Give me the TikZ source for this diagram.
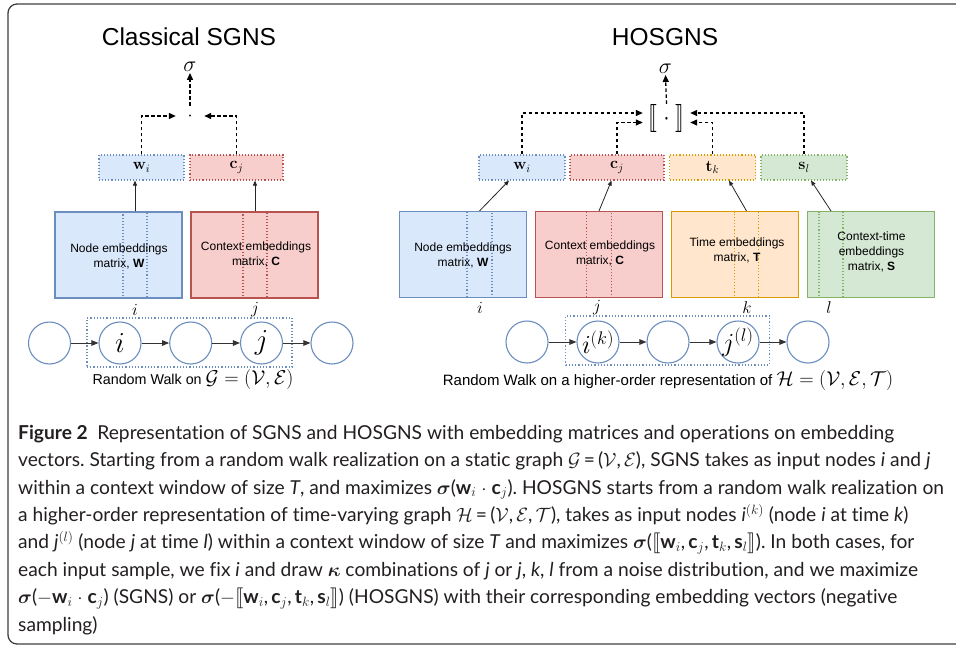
\RequirePackage{fix-cm}
\documentclass[tikz,border=0pt]{standalone}
\usepackage{amsmath,bm,stmaryrd,graphicx}
\usepackage[no-math]{fontspec}
\newfontfamily\hel{Liberation Sans}
\newfontfamily\capf[Ligatures=NoCommon]{Lato}
\usetikzlibrary{arrows.meta}
\definecolor{blueF}{HTML}{DAE8FC}\definecolor{blueD}{HTML}{6C8EBF}
\definecolor{redF}{HTML}{F8CECC}\definecolor{redD}{HTML}{B85450}
\definecolor{orF}{HTML}{FFE6CC}\definecolor{orD}{HTML}{D79B00}
\definecolor{grF}{HTML}{D5E8D4}\definecolor{grD}{HTML}{82B366}
\definecolor{capc}{HTML}{231F20}
\newcommand{\rwmath}[1]{{\fontsize{20}{22}\selectfont$#1$}}
\tikzset{
  matbox/.style={draw, line width=1.1pt, minimum width=127pt, minimum height=86pt, inner sep=0pt},
  colbox/.style={draw, dotted, line width=1.1pt, minimum height=86pt, inner sep=0pt},
  mattext/.style={font=\hel\fontsize{12}{15}\selectfont, align=center, inner sep=0pt},
  vecbox/.style={draw, dotted, line width=1.1pt, minimum height=25pt, inner sep=0pt, font=\fontsize{16}{18}\selectfont},
  walkc/.style={circle, draw=blueD, line width=1.1pt, minimum size=42pt, inner sep=0pt},
  walkarr/.style={draw=black!80, line width=1pt, -{Triangle[length=7pt,width=5.5pt]}},
  uparr/.style={draw=black!85, line width=0.8pt, -{Triangle[length=5pt,width=4pt]}},
  dsh/.style={draw=black, line width=1.3pt, dash pattern=on 3.5pt off 2.5pt, -{Triangle[length=7pt,width=6pt]}},
  winbox/.style={draw=blueD, dotted, line width=1.2pt, minimum width=205pt, minimum height=49pt, inner sep=0pt},
  ttl/.style={font=\hel\fontsize{24.5}{28}\selectfont, anchor=base},
  rw/.style={font=\hel\fontsize{14.3}{18}\selectfont, anchor=base},
  lbl/.style={font=\fontsize{17}{19}\selectfont, inner sep=0pt},
  capl/.style={anchor=base west, inner sep=0pt, text=capc, font=\capf\frenchspacing\fontsize{19.2}{27}\selectfont},
}
\begin{document}
\begin{tikzpicture}[x=1pt,y=-1pt]
\useasboundingbox (0,0) rectangle (956,645);
\clip (0,0) rectangle (956,645);
\fill[white] (0,0) rectangle (956,645);
\draw[black!75, line width=1.3pt, rounded corners=9pt] (975,4) -- (8,4) -- (8,644) -- (975,644);

% ---------------- Classical SGNS ----------------
\node[ttl] (t1) at (189,45.7) {Classical SGNS};
\node[inner sep=1pt, font=\fontsize{22}{26}\selectfont] (sig1) at (190,67) {$\sigma$};
\node[minimum width=28pt, minimum height=20pt, inner sep=0pt, font=\fontsize{18}{20}\selectfont] (dot1) at (190,116) {$\cdot$};

\node[vecbox, fill=blueF, draw=blueD, minimum width=85pt] (wv1) at (141.5,167.5) {$\mathbf{w}_i$};
\node[vecbox, fill=redF, draw=redD, minimum width=93pt] (cv1) at (236.5,167.5) {$\mathbf{c}_j$};

\node[matbox, fill=blueF, draw=blueD] (W1) at (118.5,255) {};
\node[colbox, draw=blueD, minimum width=24pt] (W1c) at (135,255) {};
\node[mattext] (W1t) at (119,256) {Node embeddings\\matrix, \textbf{W}};
\node[matbox, fill=redF, draw=redD] (C1) at (254.5,255) {};
\node[colbox, draw=redD, minimum width=24pt] (C1c) at (255,255) {};
\node[mattext] (C1t) at (256,254.5) {Context embeddings\\matrix, \textbf{C}};

\draw[uparr] (W1c.north) -- (W1c.north |- wv1.south);
\draw[uparr] (C1c.north) -- (C1c.north |- cv1.south);
\draw[dsh] (wv1.north) |- (dot1.west);
\draw[dsh] (cv1.north) |- (dot1.east);
\draw[dsh] (dot1.north) -- (sig1.south);

\node[lbl] (li1) at (135,310) {$i$};
\node[lbl] (lj1) at (255,310) {$j$};

\node[winbox] (win1) at (189.5,342.5) {};
\foreach \n/\x/\t in {1/49.5/{}, 2/120/i, 3/190.7/{}, 4/261.5/j, 5/332/{}}
  \node[walkc, font=\fontsize{29}{31}\selectfont] (a\n) at (\x,343) {$\t$};
\draw[walkarr] (a1) -- (a2);
\draw[walkarr] (a2) -- (a3);
\draw[walkarr] (a3) -- (a4);
\draw[walkarr] (a4) -- (a5);
\node[rw] (rw1) at (193,384.5) {Random Walk on \rwmath{\mathcal{G}=(\mathcal{V},\mathcal{E})}};

% ---------------- HOSGNS ----------------
\node[ttl] (t2) at (665,45.7) {HOSGNS};
\node[inner sep=1pt, font=\fontsize{22}{26}\selectfont] (sig2) at (665.5,69) {$\sigma$};
\node[minimum width=47pt, minimum height=20pt, inner sep=0pt, font=\fontsize{20}{22}\selectfont] (br) at (666.5,118) {\scalebox{1.05}[1.35]{$\llbracket\;\cdot\;\rrbracket$}};

\node[vecbox, fill=blueF, draw=blueD, minimum width=86pt] (wv2) at (522,167.5) {$\mathbf{w}_i$};
\node[vecbox, fill=redF, draw=redD, minimum width=94pt] (cv2) at (617,167.5) {$\mathbf{c}_j$};
\node[vecbox, fill=orF, draw=orD, minimum width=86pt] (tv2) at (712.5,167.5) {$\mathbf{t}_k$};
\node[vecbox, fill=grF, draw=grD, minimum width=86pt] (sv2) at (804,167.5) {$\mathbf{s}_l$};

\node[matbox, fill=blueF, draw=blueD] (W2) at (463,254.5) {};
\node[colbox, draw=blueD, minimum width=25pt] (W2c) at (479.5,254.5) {};
\node[mattext] (W2t) at (463,255.5) {Node embeddings\\matrix, \textbf{W}};
\node[matbox, fill=redF, draw=redD] (C2) at (599,254.5) {};
\node[colbox, draw=redD, minimum width=25pt] (C2c) at (599,254.5) {};
\node[mattext] (C2t) at (600,253.5) {Context embeddings\\matrix, \textbf{C}};
\node[matbox, fill=orF, draw=orD] (T2) at (735,254.5) {};
\node[colbox, draw=orD, minimum width=24pt] (T2c) at (746.5,254.5) {};
\node[mattext] (T2t) at (737,250.5) {Time embeddings\\matrix, \textbf{T}};
\node[matbox, fill=grF, draw=grD] (S2) at (871,254.5) {};
\node[colbox, draw=grD, minimum width=24pt] (S2c) at (831,254.5) {};
\node[mattext] (S2t) at (871.5,251.5) {Context-time\\embeddings\\matrix, \textbf{S}};

\draw[uparr] (W2c.north) -- ([xshift=-13pt]wv2.south);
\draw[uparr] (C2c.north) -- ([xshift=-5.5pt]cv2.south);
\draw[uparr] (T2c.north) -- ([xshift=16.5pt]tv2.south);
\draw[uparr] (S2c.north) -- ([xshift=7pt]sv2.south);

\draw[dsh] (wv2.north) |- ([yshift=5pt]br.west);
\draw[dsh] (cv2.north) |- ([yshift=-4.5pt]br.west);
\draw[dsh] (tv2.north) |- ([yshift=-4.5pt]br.east);
\draw[dsh] (sv2.north) |- ([yshift=5pt]br.east);
\draw[dsh] (br.north) -- (sig2.south);

\node[lbl] (li2) at (480,308) {$i$};
\node[lbl] (lj2) at (597,308) {$j$};
\node[lbl] (lk2) at (747,308) {$k$};
\node[lbl] (ll2) at (829,308) {$l$};

\node[winbox, minimum width=204pt] (win2) at (667.5,340.5) {};
\foreach \n/\x/\t in {1/527/{}, 2/598/{i^{(k)}}, 3/668/{}, 4/738/{j^{(l)}}, 5/808/{}}
  \node[walkc, font=\fontsize{26}{28}\selectfont] (b\n) at (\x,342) {$\t$};
\draw[walkarr] (b1) -- (b2);
\draw[walkarr] (b2) -- (b3);
\draw[walkarr] (b3) -- (b4);
\draw[walkarr] (b4) -- (b5);
\node[rw, font=\hel\fontsize{15}{18}\selectfont] (rw2) at (668,385) {Random Walk on a higher-order representation of \rwmath{\mathcal{H}=(\mathcal{V},\mathcal{E},\mathcal{T})}};

% ---------------- Caption ----------------
\node[capl] (c1) at (18,439.3) {\textbf{Figure 2}\enspace Representation of SGNS and HOSGNS with embedding matrices and operations on embedding};
\node[capl] (c2) at (18,466.7) {vectors. Starting from a random walk realization on a static graph $\mathcal{G}$\,=\,($\mathcal{V}$,\,$\mathcal{E}$), SGNS takes as input nodes \textit{i} and \textit{j}};
\node[capl] (c3) at (18,494.1) {within a context window of size \textit{T}, and maximizes $\bm{\sigma}$(\textbf{w}$_i$ $\cdot$ \textbf{c}$_j$). HOSGNS starts from a random walk realization on};
\node[capl] (c4) at (18,521.5) {a higher-order representation of time-varying graph $\mathcal{H}$\,=\,($\mathcal{V}$,\,$\mathcal{E}$,\,$\mathcal{T}$), takes as input nodes \textit{i}$^{(k)}$ (node \textit{i} at time \textit{k})};
\node[capl] (c5) at (18,548.9) {and \textit{j}$^{(l)}$ (node \textit{j} at time \textit{l}) within a context window of size \textit{T} and maximizes $\bm{\sigma}$($\llbracket$\textbf{w}$_i$,\,\textbf{c}$_j$,\,\textbf{t}$_k$,\,\textbf{s}$_l$$\rrbracket$). In both cases, for};
\node[capl] (c6) at (18,576.3) {each input sample, we fix \textit{i} and draw $\bm{\kappa}$ combinations of \textit{j} or \textit{j}, \textit{k}, \textit{l} from a noise distribution, and we maximize};
\node[capl] (c7) at (18,603.7) {$\bm{\sigma}$($-$\textbf{w}$_i$ $\cdot$ \textbf{c}$_j$) (SGNS) or $\bm{\sigma}$($-\llbracket$\textbf{w}$_i$,\,\textbf{c}$_j$,\,\textbf{t}$_k$,\,\textbf{s}$_l$$\rrbracket$) (HOSGNS) with their corresponding embedding vectors (negative};
\node[capl] (c8) at (18,631.1) {sampling)};
\end{tikzpicture}
\end{document}
